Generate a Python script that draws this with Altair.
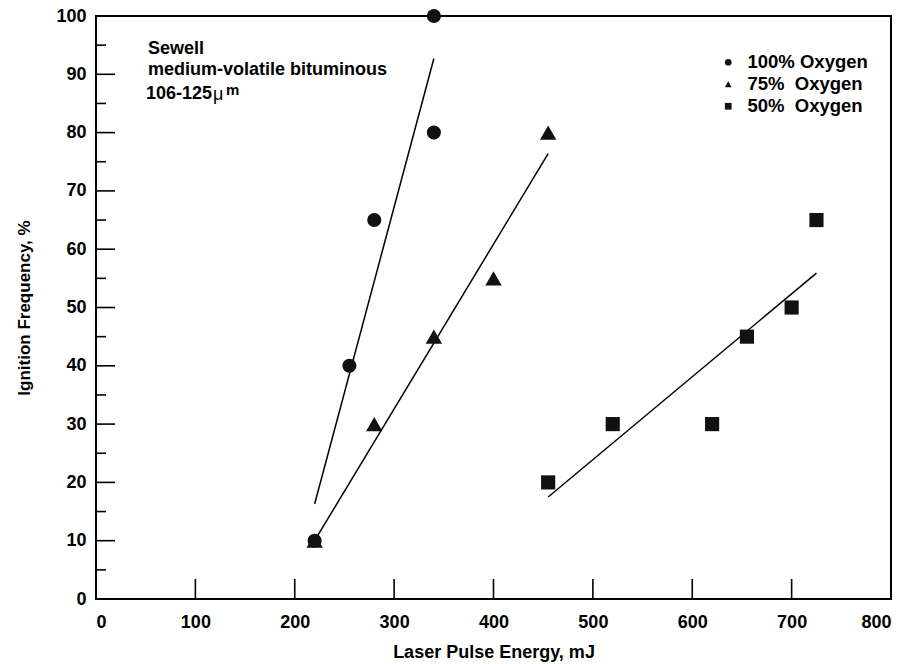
import altair as alt
import pandas as pd

# Measured ignition frequencies (%) against laser pulse energy (mJ)
series_names = ["100% Oxygen", "\u00a075%\u00a0\u00a0Oxygen", "\u00a050%\u00a0\u00a0Oxygen"]
series_shapes = ["circle", "triangle-up", "square"]
series_sizes = [200, 270, 200]

o2_100_energy = [220, 255, 280, 340, 340]
o2_100_freq = [10, 40, 65, 80, 100]

o2_75_energy = [220, 280, 340, 400, 455]
o2_75_freq = [10, 30, 45, 55, 80]

o2_50_energy = [455, 520, 620, 655, 700, 725]
o2_50_freq = [20, 30, 30, 45, 50, 65]

# Straight-line fits drawn through each series (end points)
fit_100_energy = [220, 340]
fit_100_freq = [16.3, 92.7]
fit_75_energy = [220, 455]
fit_75_freq = [10, 76.4]
fit_50_energy = [455, 725]
fit_50_freq = [17.5, 55.9]

# Axis tick positions
x_ticks = [0, 100, 200, 300, 400, 500, 600, 700, 800]
y_major = [0, 10, 20, 30, 40, 50, 60, 70, 80, 90, 100]
y_minor = [5, 15, 25, 35, 45, 55, 65, 75, 85, 95]

FONT = "Liberation Sans"
W, H = 795, 583

series_data = [
    (o2_100_energy, o2_100_freq),
    (o2_75_energy, o2_75_freq),
    (o2_50_energy, o2_50_freq),
]

fits = pd.DataFrame({
    "energy": fit_100_energy + fit_75_energy + fit_50_energy,
    "freq": fit_100_freq + fit_75_freq + fit_50_freq,
    "series": [series_names[0]] * 2 + [series_names[1]] * 2 + [series_names[2]] * 2,
})

xscale = alt.Scale(domain=[0, 800], nice=False, zero=False)
yscale = alt.Scale(domain=[0, 100], nice=False, zero=False)
shape_scale = alt.Scale(domain=series_names, range=series_shapes)

x_axis = alt.Axis(title="Laser Pulse Energy, mJ", values=x_ticks, format="d",
                  labelPadding=14, titlePadding=12)
y_axis = alt.Axis(title="Ignition Frequency, %", values=y_major, format="d",
                  labelPadding=10, titlePadding=22)
legend = alt.Legend(title=None, orient="none", legendX=623, legendY=37, direction="vertical")

X = lambda f: alt.X(f, scale=xscale, axis=x_axis)
Y = lambda f: alt.Y(f, scale=yscale, axis=y_axis)

# Inward-pointing tick marks along the bottom and left edges
xt = alt.Chart(pd.DataFrame({"v": x_ticks})).mark_rule(color="black", strokeWidth=1.6).encode(
    x=X("v:Q"), y=alt.value(H), y2=alt.value(H - 20)
)
ytm = alt.Chart(pd.DataFrame({"v": y_major})).mark_rule(color="black", strokeWidth=1.6).encode(
    y=Y("v:Q"), x=alt.value(0), x2=alt.value(19)
)
ytn = alt.Chart(pd.DataFrame({"v": y_minor})).mark_rule(color="black", strokeWidth=1.6).encode(
    y=Y("v:Q"), x=alt.value(0), x2=alt.value(10)
)

lines = alt.Chart(fits).mark_line(color="black", strokeWidth=1.5).encode(
    x=X("energy:Q"),
    y=Y("freq:Q"),
    detail="series:N",
)

# One point layer per oxygen level, sharing a single shape scale and legend
point_layers = []
for name, size, (en, fr) in zip(series_names, series_sizes, series_data):
    df = pd.DataFrame({"energy": en, "freq": fr, "series": [name] * len(en)})
    point_layers.append(
        alt.Chart(df).mark_point(filled=True, opacity=1, color="#111111", size=size).encode(
            x=X("energy:Q"),
            y=Y("freq:Q"),
            shape=alt.Shape("series:N", scale=shape_scale, legend=legend),
        )
    )

# Sample description in the upper left
note_style = dict(font=FONT, fontSize=18, fontWeight="bold", color="black", align="left", baseline="alphabetic")
note1 = alt.Chart(pd.DataFrame({"t": ["Sewell"]})).mark_text(**note_style).encode(
    text="t:N", x=alt.value(52), y=alt.value(38))
note2 = alt.Chart(pd.DataFrame({"t": ["medium-volatile bituminous"]})).mark_text(**note_style).encode(
    text="t:N", x=alt.value(52), y=alt.value(59))
note3 = alt.Chart(pd.DataFrame({"t": ["106-125"]})).mark_text(**note_style).encode(
    text="t:N", x=alt.value(50), y=alt.value(83))
note_mu = alt.Chart(pd.DataFrame({"t": ["\u03bc"]})).mark_text(
    font=FONT, fontSize=18, fontWeight="normal", color="black", align="left", baseline="alphabetic"
).encode(text="t:N", x=alt.value(117), y=alt.value(84))
note_m = alt.Chart(pd.DataFrame({"t": ["m"]})).mark_text(
    font=FONT, fontSize=15, fontWeight="bold", color="black", align="left", baseline="alphabetic"
).encode(text="t:N", x=alt.value(130), y=alt.value(79))

chart = alt.layer(
    xt, ytm, ytn, lines, *point_layers, note1, note2, note3, note_mu, note_m
).properties(
    width=W, height=H,
    autosize="none",
    padding={"left": 96, "top": 16, "right": 20, "bottom": 65},
    background="white",
).configure_view(
    stroke="black", strokeWidth=2, fill="white"
).configure_axis(
    ticks=False, domain=False, grid=False,
    labelFont=FONT, labelFontSize=18, labelFontWeight="bold", labelColor="black",
    titleFont=FONT, titleFontSize=18, titleFontWeight="bold", titleColor="black",
).configure_axisLeft(
    titleFontSize=17,
).configure_legend(
    padding=0, labelFont=FONT, labelFontSize=18.5, labelFontWeight="bold", labelColor="black",
    symbolSize=45, symbolFillColor="#111111", symbolStrokeColor="#111111",
    symbolStrokeWidth=0, labelOffset=10, rowPadding=3,
)

chart.save("out.html", embed_options={"renderer": "svg", "actions": False})
